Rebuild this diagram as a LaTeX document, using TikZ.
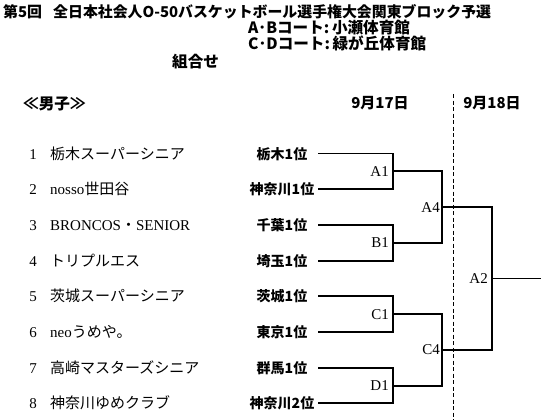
\documentclass[tikz,border=0pt]{standalone}
\usepackage{fontspec}
\setmainfont{Liberation Serif}
\newfontfamily\jp{Noto Sans CJK JP}
\begin{document}
\begin{tikzpicture}[x=1pt,y=-1pt,
 ttl/.style={font=\jp\bfseries\fontsize{14.9}{18}\selectfont, inner sep=0pt, anchor=base west},
 sub/.style={font=\jp\bfseries\fontsize{15.6}{18}\selectfont, inner sep=0pt, anchor=base west},
 hdr/.style={font=\jp\bfseries\fontsize{15}{18}\selectfont, inner sep=0pt, anchor=base},
 team/.style={font=\fontsize{15}{16}\selectfont, inner sep=0pt, anchor=base west},
 num/.style={font=\fontsize{15}{16}\selectfont, inner sep=0pt, anchor=base},
 pref/.style={font=\jp\bfseries\fontsize{14}{16}\selectfont, inner sep=0pt, anchor=base},
 mlab/.style={font=\fontsize{15}{16}\selectfont, inner sep=0pt, anchor=east},
 br/.style={line width=1.9pt},
 dashline/.style={line width=0.8pt, dash pattern=on 4pt off 2.5pt}]
\useasboundingbox[fill=white] (0,0) rectangle (541,420);
% title
\node[ttl] (h0) at (3,17.5) {第5回};
\node[ttl] (h1) at (53,17.5) {全日本社会人O-50バスケットボール選手権大会関東ブロック予選};
\node[sub] (h2) at (248,33.5) {A･Bコート:\,小瀬体育館};
\node[sub] (h3) at (248,50) {C･Dコート:\,緑が丘体育館};
\node[sub] (h4) at (172,67.5) {組合せ};
\node[sub] (h5) at (23,110) {≪男子≫};
\node[hdr] (d1) at (380,108.5) {9月17日};
\node[hdr] (d2) at (492,108.5) {9月18日};
% teams
\node[num] (n1) at (33,159) {1};
\node[num] (n2) at (33,194.7) {2};
\node[num] (n3) at (33,230.4) {3};
\node[num] (n4) at (33,266.1) {4};
\node[num] (n5) at (33,301.8) {5};
\node[num] (n6) at (33,337.5) {6};
\node[num] (n7) at (33,373.2) {7};
\node[num] (n8) at (33,408.9) {8};
\node[team] (t1) at (50,159) {\jp 栃木スーパーシニア};
\node[team] (t2) at (50,194.7) {nosso{\jp 世田谷}};
\node[team] (t3) at (50,230.4) {BRONCOS{\jp ・}SENIOR};
\node[team] (t4) at (50,266.1) {\jp トリプルエス};
\node[team] (t5) at (50,301.8) {\jp 茨城スーパーシニア};
\node[team] (t6) at (50,337.5) {neo{\jp うめや。}};
\node[team] (t7) at (50,373.2) {\jp 高崎マスターズシニア};
\node[team] (t8) at (50,408.9) {\jp 神奈川ゆめクラブ};
\node[pref] (p1) at (282,159) {栃木1位};
\node[pref] (p2) at (282,194.7) {神奈川1位};
\node[pref] (p3) at (282,230.4) {千葉1位};
\node[pref] (p4) at (282,266.1) {埼玉1位};
\node[pref] (p5) at (282,301.8) {茨城1位};
\node[pref] (p6) at (282,337.5) {東京1位};
\node[pref] (p7) at (282,373.2) {群馬1位};
\node[pref] (p8) at (282,408.9) {神奈川2位};
% bracket coordinates
\coordinate (s1) at (318,153.5);
\coordinate (s2) at (318,189.2);
\coordinate (s3) at (318,224.9);
\coordinate (s4) at (318,260.6);
\coordinate (s5) at (318,296.3);
\coordinate (s6) at (318,332.0);
\coordinate (s7) at (318,367.7);
\coordinate (s8) at (318,403.4);
\coordinate (mA1) at (393,171.4);
\coordinate (mB1) at (393,242.8);
\coordinate (mC1) at (393,314.2);
\coordinate (mD1) at (393,385.6);
\coordinate (mA4) at (442,207.1);
\coordinate (mC4) at (442,349.9);
\coordinate (mA2) at (491.7,278.5);
\coordinate (fin) at (541,278.5);
\coordinate (dtop) at (453,94);
\coordinate (dbot) at (453,420);
\draw[dashline] (dtop) -- (dbot);
\draw[br] (s1) -| (mA1) |- (s2);
\draw[br] (s3) -| (mB1) |- (s4);
\draw[br] (s5) -| (mC1) |- (s6);
\draw[br] (s7) -| (mD1) |- (s8);
\draw[br] (mA1) -| (mA4) |- (mB1);
\draw[br] (mC1) -| (mC4) |- (mD1);
\draw[br] (mA4) -| (mA2) |- (mC4);
\draw[br] (mA2) -- (fin);
\node[mlab] (lA1) at (389,171.4) {A1};
\node[mlab] (lB1) at (389,242.8) {B1};
\node[mlab] (lC1) at (389,314.2) {C1};
\node[mlab] (lD1) at (389,385.6) {D1};
\node[mlab] (lA4) at (440,207.1) {A4};
\node[mlab] (lC4) at (440,349.9) {C4};
\node[mlab] (lA2) at (488,278.5) {A2};
\end{tikzpicture}
\end{document}
